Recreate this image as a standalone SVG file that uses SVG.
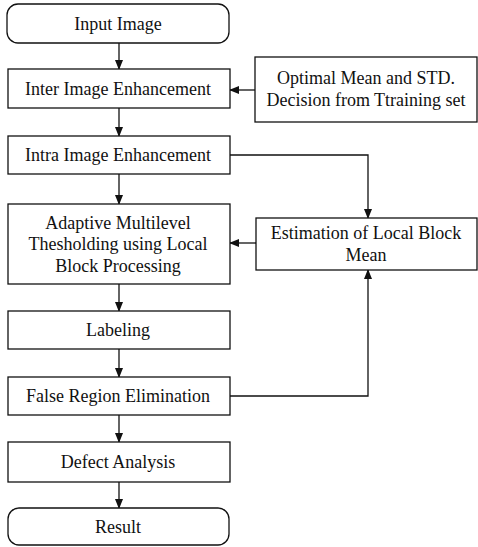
<svg xmlns="http://www.w3.org/2000/svg" width="478" height="547" viewBox="0 0 478 547">
<style>
.box{fill:#fff;stroke:#111;stroke-width:1.3}
.t{font-size:18px;fill:#111;text-anchor:middle}
.c{fill:none;stroke:#111;stroke-width:1.3}
</style>
<defs>
<marker id="ah" markerWidth="10" markerHeight="8" refX="9" refY="4" orient="auto" markerUnits="userSpaceOnUse">
<path d="M0,0 L10,4 L0,8 Z" fill="#111"/>
</marker>
</defs>
<rect width="478" height="547" fill="#fff"/>
<g id="connectors">
<line class="c" x1="119" y1="43" x2="119" y2="69" marker-end="url(#ah)"/>
<line class="c" x1="255" y1="90" x2="230" y2="90" marker-end="url(#ah)"/>
<line class="c" x1="119" y1="108" x2="119" y2="136" marker-end="url(#ah)"/>
<line class="c" x1="119" y1="174" x2="119" y2="204" marker-end="url(#ah)"/>
<polyline class="c" points="230,155 368,155 368,218" marker-end="url(#ah)"/>
<line class="c" x1="256" y1="243" x2="230" y2="243" marker-end="url(#ah)"/>
<line class="c" x1="119" y1="284" x2="119" y2="311" marker-end="url(#ah)"/>
<line class="c" x1="119" y1="349" x2="119" y2="377" marker-end="url(#ah)"/>
<polyline class="c" points="230,396 368,396 368,270" marker-end="url(#ah)"/>
<line class="c" x1="119" y1="415" x2="119" y2="442" marker-end="url(#ah)"/>
<line class="c" x1="119" y1="482" x2="119" y2="508" marker-end="url(#ah)"/>
</g>
<g font-family="Liberation Serif, Times New Roman, serif">
<g id="input"><rect class="box" x="7" y="4" width="222" height="39" rx="11"/><text class="t" x="118" y="30">Input Image</text></g>
<g id="inter"><rect class="box" x="8" y="69" width="222" height="39"/><text class="t" x="118" y="95">Inter Image Enhancement</text></g>
<g id="optimal"><rect class="box" x="255" y="57" width="222" height="65"/><text class="t" x="366" y="84">Optimal Mean and STD.</text><text class="t" x="366" y="106">Decision from Ttraining set</text></g>
<g id="intra"><rect class="box" x="8" y="136" width="222" height="38"/><text class="t" x="118" y="161">Intra Image Enhancement</text></g>
<g id="adaptive"><rect class="box" x="8" y="204" width="222" height="80"/><text class="t" x="118" y="229">Adaptive Multilevel</text><text class="t" x="118" y="250">Thesholding using Local</text><text class="t" x="118" y="272">Block Processing</text></g>
<g id="estimation"><rect class="box" x="256" y="218" width="221" height="52"/><text class="t" x="366" y="239">Estimation  of Local Block</text><text class="t" x="366" y="261">Mean</text></g>
<g id="labeling"><rect class="box" x="8" y="311" width="222" height="38"/><text class="t" x="118" y="336">Labeling</text></g>
<g id="false"><rect class="box" x="8" y="377" width="222" height="38"/><text class="t" x="118" y="402">False Region Elimination</text></g>
<g id="defect"><rect class="box" x="8" y="442" width="222" height="40"/><text class="t" x="118" y="468">Defect Analysis</text></g>
<g id="result"><rect class="box" x="8" y="508" width="221" height="37" rx="11"/><text class="t" x="118" y="533">Result</text></g>
</g>
</svg>
